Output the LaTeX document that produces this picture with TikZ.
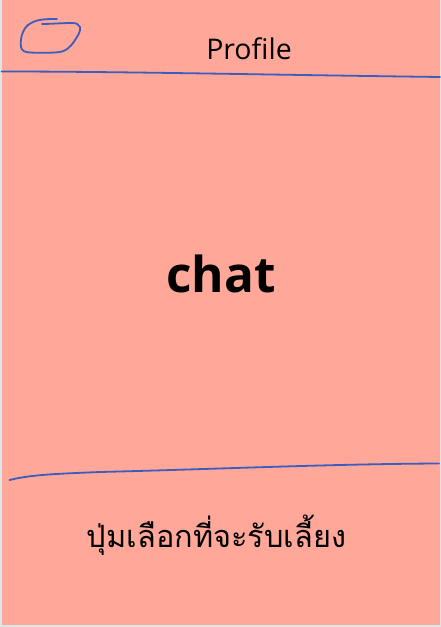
\documentclass[tikz,border=0pt]{standalone}
\usepackage{fontspec}
\setmainfont{Open Sans}
\newfontfamily\thaifont[Script=Thai]{Loma}
\definecolor{salmon}{HTML}{FFA899}
\definecolor{outer}{HTML}{DDE4E6}
\definecolor{pen}{HTML}{3A5EBE}
\begin{document}
\begin{tikzpicture}[x=1pt,y=-1pt,
  sketch/.style={draw=pen,line width=1.8pt,line cap=round,line join=round},
  lbl/.style={inner sep=0pt,anchor=base,text=black}]
\fill[outer] (0,0) rectangle (441,627);
\useasboundingbox (0,0) rectangle (441,627);
\fill[salmon] (1.5,0) rectangle (440,624.5);
% hand-drawn blob
\draw[sketch] (57,19) .. controls (45,19) and (36,19) .. (28,25)
  .. controls (22,30) and (20,40) .. (21,47)
  .. controls (22,51) and (24,52) .. (30,52.5)
  .. controls (40,53) and (52,53) .. (60,52)
  .. controls (66,51) and (70,47) .. (73,43)
  .. controls (77,37) and (81,32) .. (80,27)
  .. controls (79,24) and (76,23) .. (72,23)
  .. controls (62,23) and (50,24) .. (42,24);
% top line
\draw[sketch] (1.5,71.5) .. controls (120,71.5) and (250,74.5) .. (440,77);
% bottom line
\draw[sketch] (9.5,480) .. controls (30,475) and (50,474) .. (100,472)
  .. controls (220,469) and (330,464) .. (439,463.5);
\node[lbl,font=\fontsize{28.5}{32}\selectfont] (profile) at (249,59.5) {Profile};
\node[lbl,font=\fontsize{49.5}{56}\bfseries] (chat) at (221,292) {chat};
\node[lbl,font=\thaifont\fontsize{30.7}{35}\selectfont] (btn) at (216.5,547) {ปุ่มเลือกที่จะรับเลี้ยง};
\end{tikzpicture}
\end{document}
